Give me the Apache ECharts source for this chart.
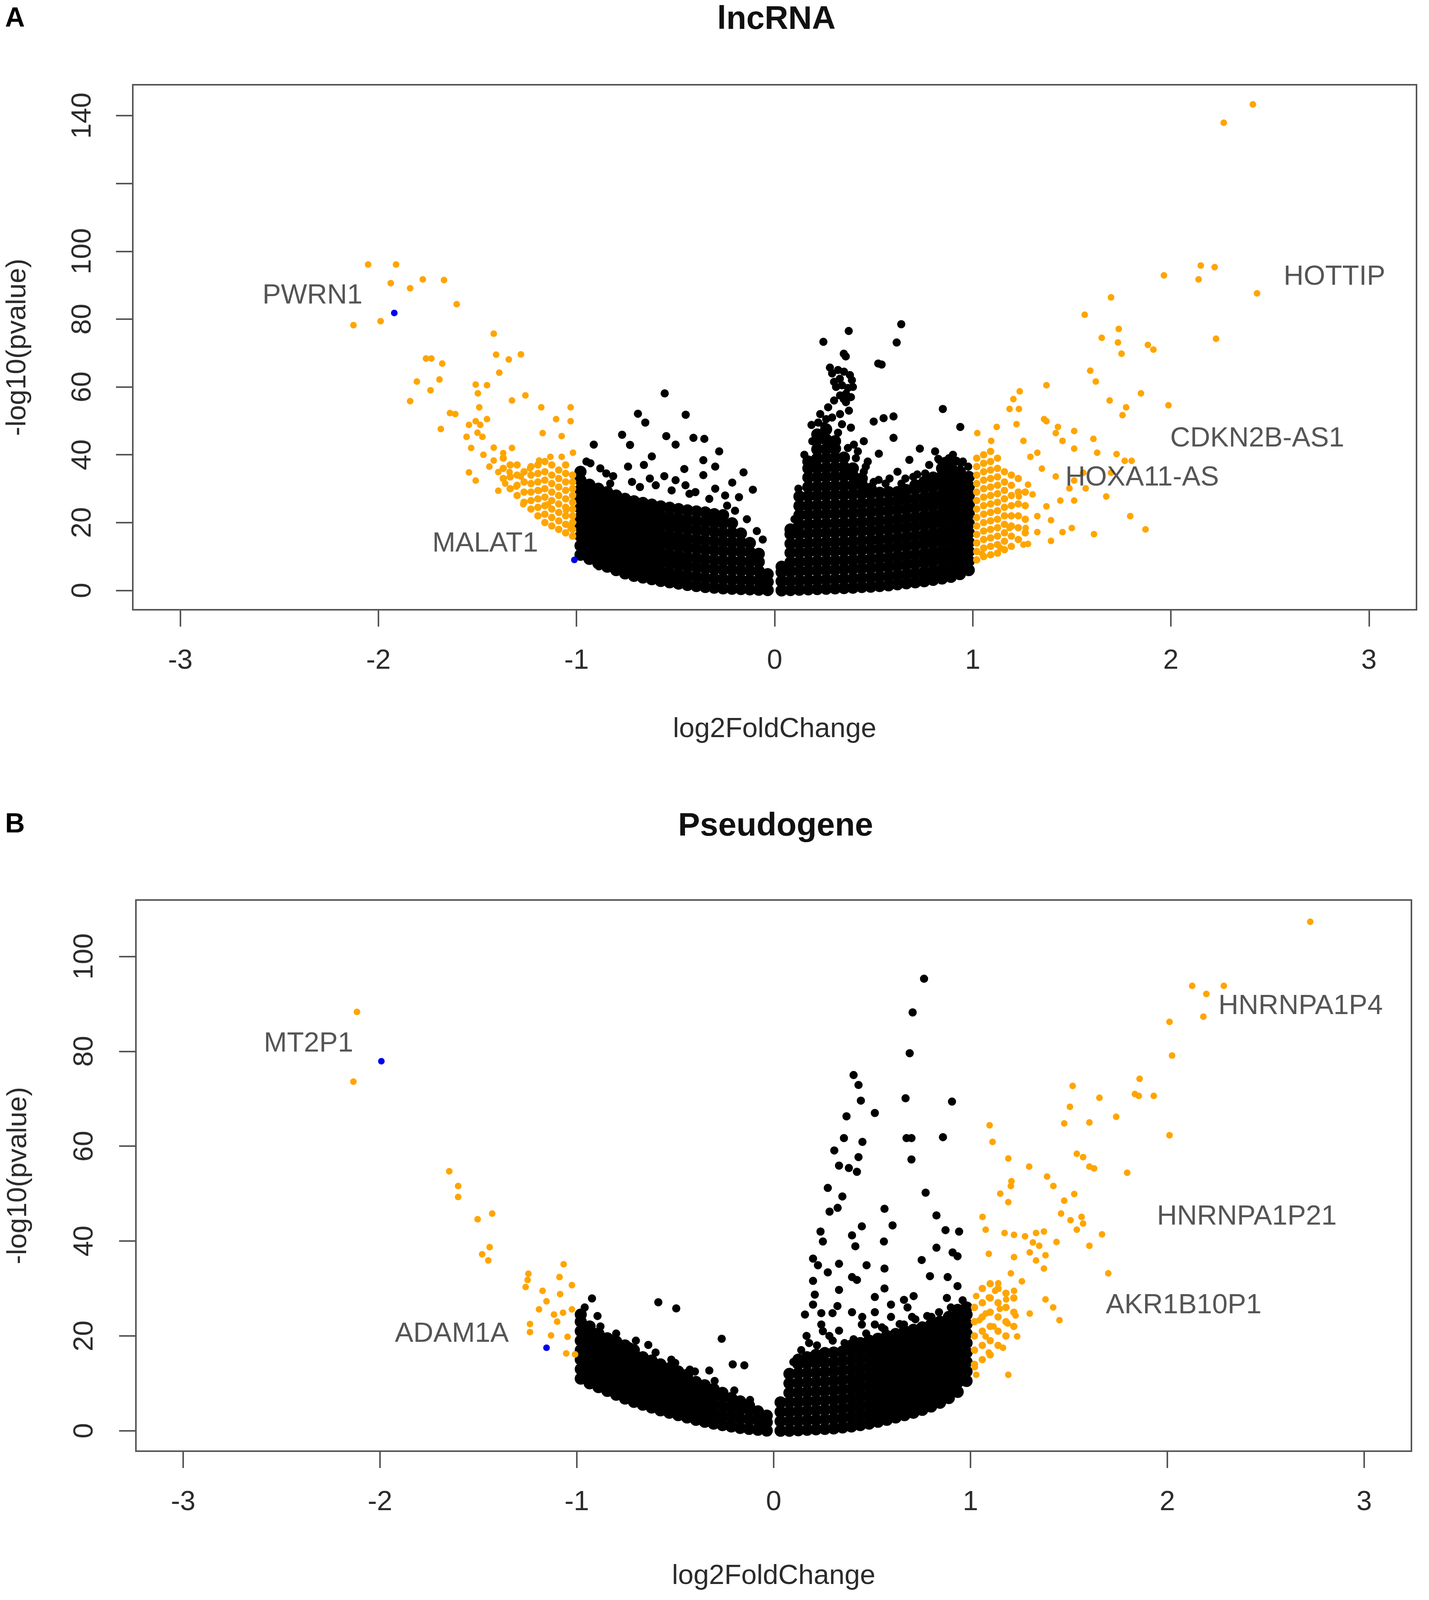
<!DOCTYPE html>
<html>
<head>
<meta charset="utf-8">
<title>lncRNA / Pseudogene volcano plots</title>
<script src="https://cdn.jsdelivr.net/npm/echarts@6/dist/echarts.min.js"></script>
<style>
  html, body { margin: 0; padding: 0; background: #ffffff; }
  #chart { width: 3659px; height: 4106px; }
</style>
</head>
<body>
<div id="chart"></div>
<script>
// 坐标轴刻度
const xTicks = [-3, -2, -1, 0, 1, 2, 3];
const lncYTicks = [0, 20, 40, 60, 80, 100, 120, 140];
const lncYLabels = [0, 20, 40, 60, 80, 100, 140];
const pseudoYTicks = [0, 20, 40, 60, 80, 100];

// ---------- A: lncRNA ----------
// dense black mass, read column by column: [log2FC, [-log10 p ...]]
const lncBlackCols = [
  [-0.98, [10.5, 13.2, 16, 18.7, 21.5, 24.2, 27, 29.7, 32.5, 35]],
  [-0.935, [9.3, 12, 14.8, 17.5, 20.3, 23, 25.8, 28.5, 31.2]],
  [-0.89, [8, 10.7, 13.5, 16.2, 19, 21.7, 24.5, 27.2, 30]],
  [-0.845, [7, 9.8, 12.5, 15.3, 18, 20.8, 23.5, 26.3, 29]],
  [-0.8, [6, 8.7, 11.5, 14.2, 17, 19.7, 22.5, 25.2, 28]],
  [-0.755, [5, 7.7, 10.5, 13.2, 16, 18.7, 21.5, 24.2, 27]],
  [-0.71, [4.3, 7, 9.8, 12.5, 15.3, 18, 20.8, 23.5, 26.3]],
  [-0.665, [3.8, 6.5, 9.3, 12, 14.8, 17.5, 20.3, 23, 25.8]],
  [-0.62, [3.3, 6, 8.8, 11.5, 14.3, 17, 19.8, 22.5, 25.3]],
  [-0.575, [2.8, 5.5, 8.3, 11, 13.8, 16.5, 19.3, 22, 24.8]],
  [-0.53, [2.4, 5.1, 7.9, 10.6, 13.4, 16.1, 18.9, 21.6, 24.4]],
  [-0.485, [2, 4.7, 7.5, 10.2, 13, 15.7, 18.5, 21.2, 24]],
  [-0.44, [1.6, 4.3, 7.1, 9.8, 12.6, 15.3, 18.1, 20.8, 23.6]],
  [-0.395, [1.3, 4, 6.8, 9.5, 12.3, 15, 17.8, 20.5, 23.3]],
  [-0.35, [1, 3.7, 6.5, 9.2, 12, 14.7, 17.5, 20.2, 23]],
  [-0.305, [0.8, 3.5, 6.3, 9, 11.8, 14.5, 17.3, 20, 22.5]],
  [-0.26, [0.6, 3.3, 6.1, 8.8, 11.6, 14.3, 17, 19.8, 22.2]],
  [-0.215, [0.5, 3.2, 6, 8.7, 11.5, 14.2, 17, 19.8]],
  [-0.17, [0.4, 3.1, 5.9, 8.6, 11.4, 14.1, 16.8]],
  [-0.125, [0.3, 3, 5.8, 8.5, 11.3, 14]],
  [-0.08, [0.2, 2.9, 5.7, 8.4, 10.8]],
  [-0.035, [0.1, 2.5, 4.8]],
  [0.035, [0, 2.7, 5.4, 7]],
  [0.08, [0.1, 2.8, 5.6, 8.3, 11.1, 13.8, 16.6, 18]],
  [0.125, [0.2, 2.9, 5.7, 8.4, 11.2, 13.9, 16.7, 19.4, 22.2, 24.9, 27.7]],
  [0.17, [0.3, 3, 5.8, 8.5, 11.3, 14, 16.8, 19.5, 22.3, 25, 27.8, 30.5, 33.3, 36, 38]],
  [0.215, [0.4, 3.1, 5.9, 8.6, 11.4, 14.1, 16.9, 19.6, 22.4, 25.1, 27.9, 30.6, 33.4, 36.1, 38.9, 41.6, 44.4, 46]],
  [0.26, [0.5, 3.2, 6, 8.7, 11.5, 14.2, 17, 19.7, 22.5, 25.2, 28, 30.7, 33.5, 36.2, 39, 41.7, 44.5, 47.5]],
  [0.305, [0.6, 3.3, 6.1, 8.8, 11.6, 14.3, 17.1, 19.8, 22.6, 25.3, 28.1, 30.8, 33.6, 36.3, 39.1, 41.8, 44]],
  [0.35, [0.7, 3.4, 6.2, 8.9, 11.7, 14.4, 17.2, 19.9, 22.7, 25.4, 28.2, 30.9, 33.7, 36.4, 39.2]],
  [0.395, [0.8, 3.5, 6.3, 9, 11.8, 14.5, 17.3, 20, 22.8, 25.5, 28.3, 31, 33.8, 36]],
  [0.44, [1, 3.7, 6.5, 9.2, 12, 14.7, 17.5, 20.2, 23, 25.7, 28.5, 31.2, 33]],
  [0.485, [1.1, 3.8, 6.6, 9.3, 12.1, 14.8, 17.6, 20.3, 23.1, 25.8, 28.6, 30]],
  [0.53, [1.3, 4, 6.8, 9.5, 12.3, 15, 17.8, 20.5, 23.3, 26, 28.8]],
  [0.575, [1.5, 4.2, 7, 9.7, 12.5, 15.2, 18, 20.7, 23.5, 26.2, 29]],
  [0.62, [1.8, 4.5, 7.3, 10, 12.8, 15.5, 18.3, 21, 23.8, 26.5, 29]],
  [0.665, [2.1, 4.8, 7.6, 10.3, 13.1, 15.8, 18.6, 21.3, 24.1, 26.8, 29.6]],
  [0.71, [2.4, 5.1, 7.9, 10.6, 13.4, 16.1, 18.9, 21.6, 24.4, 27.1, 29.9, 31]],
  [0.755, [2.7, 5.4, 8.2, 10.9, 13.7, 16.4, 19.2, 21.9, 24.7, 27.4, 30.2, 32]],
  [0.8, [3.1, 5.8, 8.6, 11.3, 14.1, 16.8, 19.6, 22.3, 25.1, 27.8, 30.6, 33.3]],
  [0.845, [3.5, 6.2, 9, 11.7, 14.5, 17.2, 20, 22.7, 25.5, 28.2, 31, 33.7, 36]],
  [0.89, [4, 6.7, 9.5, 12.2, 15, 17.7, 20.5, 23.2, 26, 28.7, 31.5, 34.2, 37]],
  [0.935, [4.8, 7.5, 10.3, 13, 15.8, 18.5, 21.3, 24, 26.8, 29.5, 32.3, 35]],
  [0.98, [6, 8.7, 11.5, 14.2, 17, 19.7, 22.5, 25.2, 28, 30.7, 33.5]]
];

// scattered black points above the mass
const lncBlack = [
  [-0.555, 58.1], [-0.69, 52.1], [-0.653, 49.5], [-0.449, 51.8], [-0.913, 43], [-0.77, 45.9],
  [-0.73, 42.9], [-0.547, 45.5], [-0.5, 43], [-0.41, 45], [-0.355, 44.7], [-0.28, 41],
  [-0.36, 38.4], [-0.456, 35.8], [-0.157, 34.8], [-0.815, 33.7], [-0.557, 33.7], [-0.36, 34],
  [-0.214, 31.8], [-0.11, 29.7], [-0.95, 38], [-0.88, 36], [-0.74, 36.5], [-0.66, 37],
  [-0.6, 31], [-0.45, 31], [-0.3, 30], [-0.25, 28], [-0.72, 32], [-0.52, 29.5], [-0.4, 29],
  [-0.85, 34.5], [-0.62, 39.5], [-0.3, 36.5], [-0.18, 27.5], [-0.887, 7.1], [-0.97, 11],
  [-0.93, 37.5], [-0.83, 31.5], [-0.68, 30.5], [-0.63, 33], [-0.5, 32.5], [-0.43, 28.5],
  [-0.33, 27], [-0.24, 25], [-0.2, 23.5], [-0.14, 21], [-0.09, 17.5], [-0.06, 15],
  [0.374, 76.5], [0.246, 73.3], [0.639, 78.5], [0.616, 73.1], [0.359, 69], [0.523, 66.9],
  [0.54, 66.6], [0.279, 65.7], [0.329, 62.4], [0.39, 62], [0.31, 60], [0.37, 59.7], [0.36, 58],
  [0.385, 57], [0.36, 55.5], [0.375, 53], [0.3, 56], [0.33, 52], [0.5, 49.8], [0.55, 50.8],
  [0.6, 51.3], [0.849, 53.5], [0.937, 48.2], [0.733, 41.8], [0.385, 48], [0.25, 48.5],
  [0.526, 40.3], [0.525, 32.6], [0.72, 34.2], [0.535, 29], [0.45, 44], [0.42, 41], [0.6, 45],
  [0.68, 38.5], [0.46, 36.5], [0.29, 51], [0.34, 49], [0.81, 41], [0.95, 38], [0.977, 36.5],
  [0.9, 40], [0.78, 37], [0.62, 35], [0.58, 33], [0.66, 33], [0.47, 38], [0.4, 43],
  [0.186, 48.8], [0.23, 52], [0.27, 54], [0.29, 64], [0.32, 65], [0.35, 64.5], [0.38, 63.5],
  [0.3, 61.5], [0.34, 60.5], [0.395, 60], [0.33, 57.5], [0.355, 56.5], [0.349, 69.8],
  [0.86, 38.2], [0.919, 38.2], [0.826, 38.8], [0.349, 56.4],
  [0.1, 21], [0.12, 30], [0.15, 40], [0.19, 44], [0.22, 49.5], [0.26, 50.5], [0.32, 46.5],
  [0.37, 42], [0.41, 39], [0.45, 35], [0.5, 32], [0.56, 31.5], [0.64, 31.5], [0.7, 33.5],
  [0.76, 34.5], [0.83, 38.5], [0.88, 39], [0.94, 37.5]
];

// dense orange masses next to |log2FC| = 1
const lncOrangeCols = [
  [-1.02, [16, 18, 20, 22, 24, 26, 28, 30, 32, 34]],
  [-1.055, [17, 19.5, 22, 24.5, 27, 29.5, 32, 34.5, 37]],
  [-1.09, [18, 20.5, 23, 25.5, 28, 30.5, 33, 35.5]],
  [-1.125, [19, 21.5, 24, 26.5, 29, 31.5, 34, 37]],
  [-1.16, [20, 22.5, 25, 27.5, 30, 32.5, 35, 38]],
  [-1.195, [22, 24.5, 27, 29.5, 32, 34.5, 37]],
  [-1.23, [24, 26.5, 29, 31.5, 34, 36.5]],
  [-1.265, [26, 29, 32, 35]],
  [-1.3, [28, 31, 34, 37]],
  [-1.335, [30, 33.5, 37]],
  [-1.37, [33, 36, 39]],
  [1.02, [9, 11.5, 14, 16.5, 19, 21.5, 24, 26.5, 29, 31.5, 34, 36.5, 39]],
  [1.055, [10, 12.5, 15, 17.5, 20, 22.5, 25, 27.5, 30, 32.5, 35, 37.5, 40]],
  [1.09, [10.5, 13, 15.5, 18, 20.5, 23, 25.5, 28, 30.5, 33, 35.5, 38, 41]],
  [1.125, [11, 13.5, 16, 18.5, 21, 23.5, 26, 28.5, 31, 33.5, 36, 39]],
  [1.16, [12, 14.5, 17, 19.5, 22, 24.5, 27, 29.5, 32, 35]],
  [1.195, [13, 16, 19, 22, 25, 28, 31, 34]],
  [1.23, [15, 18.5, 22, 25.5, 29, 33]],
  [1.265, [17, 21, 25, 29]]
];

const lncOrange = [
  [-2.052, 96.1], [-1.911, 96.1], [-1.938, 90.6], [-1.84, 89.1], [-1.776, 91.7], [-1.669, 91.5],
  [-1.605, 84.4], [-2.126, 78.2], [-1.989, 79.4], [-1.418, 75.7], [-1.406, 69.5], [-1.342, 68.1],
  [-1.281, 69.6], [-1.39, 64.2], [-1.76, 68.4], [-1.733, 68.4], [-1.678, 66.9], [-1.806, 61.6],
  [-1.692, 62.2], [-1.737, 59], [-1.84, 55.8], [-1.509, 60.7], [-1.452, 60.5], [-1.498, 58.1],
  [-1.258, 57.5], [-1.326, 56], [-1.03, 54], [-1.03, 49.9], [-1.178, 54], [-1.639, 52.3],
  [-1.612, 52], [-1.491, 54], [-1.509, 49.9], [-1.452, 50.5], [-1.543, 48.8], [-1.486, 48.8],
  [-1.103, 50.5], [-1.685, 47.6], [-1.555, 45.3], [-1.475, 45.3], [-1.171, 46.4], [-1.075, 45.5],
  [-1.532, 42], [-1.418, 42.1], [-1.326, 42], [-1.018, 40.6], [-1.543, 34.8], [-1.509, 32.4],
  [-1.418, 38.3], [-1.395, 34.9], [-1.338, 34.9], [-1.281, 33.6], [-1.235, 36], [-1.189, 38.3],
  [-1.132, 39.4], [-1.075, 39.4], [-1.395, 29.4], [-1.304, 30.6], [-1.269, 25.4], [-1.189, 29.4],
  [-1.144, 25.4], [-1.053, 23.6], [-1.03, 18.4], [-1.5, 46.5], [-1.47, 40], [-1.37, 40.5],
  [-1.44, 36.5], [-1.36, 31.5],
  [2.414, 143.3], [2.267, 137.9], [2.151, 95.8], [2.221, 95.3], [2.14, 91.7], [1.965, 92.9],
  [2.435, 87.6], [1.698, 86.4], [1.565, 81.3], [2.228, 74.2], [1.737, 77.1], [1.651, 74.5],
  [1.733, 73.1], [1.751, 69.8], [1.884, 72.4], [1.912, 71], [1.593, 64.8], [1.621, 61.6],
  [1.372, 60.5], [1.849, 58.1], [1.691, 56], [1.774, 54], [1.756, 51.7], [1.988, 54.6],
  [1.237, 58.7], [1.205, 56.4], [1.186, 53.5], [1.233, 53.5], [1.36, 50.5], [1.121, 48.2],
  [1.221, 49], [1.43, 48.2], [1.512, 47], [1.609, 44.7], [1.453, 44.1], [1.023, 46.4],
  [1.093, 44.1], [1.326, 40.6], [1.726, 40.2], [1.802, 38.2], [1.674, 27.7], [1.795, 21.9],
  [1.872, 18], [1.612, 16.6], [1.5, 18.4], [1.453, 17.2], [1.395, 14.6], [1.256, 13.5],
  [1.279, 13.7], [1.14, 12.5], [1.047, 10.8], [1.57, 30.1], [1.512, 32.4], [1.372, 49.9],
  [1.419, 46.4], [1.512, 41.8], [1.256, 44.1], [1.291, 39.4], [1.349, 35.9], [1.419, 33.6],
  [1.488, 30.1], [1.442, 26.5], [1.372, 24.8], [1.326, 21.9], [1.512, 26.5], [1.628, 40.6],
  [1.698, 34.7], [1.767, 38.2], [1.558, 34.7], [1.279, 31.2], [1.233, 27.7], [1.302, 28.3],
  [1.267, 18.4], [1.395, 20.7], [1.326, 17.2], [1.186, 18.4]
];

const lncBlue = [[-1.92, 81.8], [-1.011, 9.0]];
const lncGeneNames = ['PWRN1', 'MALAT1', 'HOTTIP', 'CDKN2B-AS1', 'HOXA11-AS'];
const lncGenePos = [[-2.333, 86.8], [-1.461, 13.7], [2.826, 92.4], [2.436, 44.7], [1.855, 33.2]];

// ---------- B: Pseudogene ----------
const pseudoBlackCols = [
  [-0.98, [11, 13, 15, 17, 19, 21, 23, 24.5]],
  [-0.935, [10, 12, 14, 16, 18, 20, 22]],
  [-0.89, [9.2, 11.2, 13.2, 15.2, 17.2, 19.2, 20.5]],
  [-0.845, [8.4, 10.4, 12.4, 14.4, 16.4, 18.4, 19.5]],
  [-0.8, [7.6, 9.6, 11.6, 13.6, 15.6, 17.6, 18.8]],
  [-0.755, [6.8, 8.8, 10.8, 12.8, 14.8, 16.8, 18]],
  [-0.71, [6.1, 8.1, 10.1, 12.1, 14.1, 16.1, 17]],
  [-0.665, [5.5, 7.5, 9.5, 11.5, 13.5, 15.5]],
  [-0.62, [4.9, 6.9, 8.9, 10.9, 12.9, 14.8]],
  [-0.575, [4.3, 6.3, 8.3, 10.3, 12.3, 14]],
  [-0.53, [3.8, 5.8, 7.8, 9.8, 11.8, 13.2]],
  [-0.485, [3.3, 5.3, 7.3, 9.3, 11.3, 12.5]],
  [-0.44, [2.8, 4.8, 6.8, 8.8, 10.8, 11.8]],
  [-0.395, [2.3, 4.3, 6.3, 8.3, 10.3]],
  [-0.35, [1.9, 3.9, 5.9, 7.9, 9.6]],
  [-0.305, [1.5, 3.5, 5.5, 7.5, 8.8]],
  [-0.26, [1.2, 3.2, 5.2, 7.2, 8]],
  [-0.215, [0.9, 2.9, 4.9, 6.9]],
  [-0.17, [0.6, 2.6, 4.6, 6.2]],
  [-0.125, [0.4, 2.4, 4.4, 5.3]],
  [-0.08, [0.2, 2.2, 4.1]],
  [-0.035, [0.05, 1.8, 3.2]],
  [0.035, [0, 2, 4, 6]],
  [0.08, [0, 2, 4, 6, 8, 10, 12]],
  [0.125, [0.1, 2.1, 4.1, 6.1, 8.1, 10.1, 12.1, 14.1, 15]],
  [0.17, [0.2, 2.2, 4.2, 6.2, 8.2, 10.2, 12.2, 14.2, 15.5]],
  [0.215, [0.3, 2.3, 4.3, 6.3, 8.3, 10.3, 12.3, 14.3, 16]],
  [0.26, [0.4, 2.4, 4.4, 6.4, 8.4, 10.4, 12.4, 14.4, 16.4]],
  [0.305, [0.5, 2.5, 4.5, 6.5, 8.5, 10.5, 12.5, 14.5, 16.5]],
  [0.35, [0.7, 2.7, 4.7, 6.7, 8.7, 10.7, 12.7, 14.7, 16.7]],
  [0.395, [0.9, 2.9, 4.9, 6.9, 8.9, 10.9, 12.9, 14.9, 16.9, 18]],
  [0.44, [1.2, 3.2, 5.2, 7.2, 9.2, 11.2, 13.2, 15.2, 17.2, 18.5]],
  [0.485, [1.5, 3.5, 5.5, 7.5, 9.5, 11.5, 13.5, 15.5, 17.5, 19]],
  [0.53, [1.9, 3.9, 5.9, 7.9, 9.9, 11.9, 13.9, 15.9, 17.9, 19.4]],
  [0.575, [2.3, 4.3, 6.3, 8.3, 10.3, 12.3, 14.3, 16.3, 18.3, 20]],
  [0.62, [2.8, 4.8, 6.8, 8.8, 10.8, 12.8, 14.8, 16.8, 18.8, 20.4]],
  [0.665, [3.3, 5.3, 7.3, 9.3, 11.3, 13.3, 15.3, 17.3, 19.3, 21]],
  [0.71, [3.8, 5.8, 7.8, 9.8, 11.8, 13.8, 15.8, 17.8, 19.8, 21.3]],
  [0.755, [4.4, 6.4, 8.4, 10.4, 12.4, 14.4, 16.4, 18.4, 20.4, 21.8]],
  [0.8, [5.1, 7.1, 9.1, 11.1, 13.1, 15.1, 17.1, 19.1, 21.1, 22.4]],
  [0.845, [5.9, 7.9, 9.9, 11.9, 13.9, 15.9, 17.9, 19.9, 21.9, 23]],
  [0.89, [6.9, 8.9, 10.9, 12.9, 14.9, 16.9, 18.9, 20.9, 22.9, 24]],
  [0.935, [8.2, 10.2, 12.2, 14.2, 16.2, 18.2, 20.2, 22.2, 24.2, 25.5]],
  [0.98, [10.5, 12.5, 14.5, 16.5, 18.5, 20.5, 22.5, 24.5, 26]]
];

const pseudoBlack = [
  [-0.923, 27.9], [-0.895, 24.2], [-0.586, 27.1], [-0.495, 25.8], [-0.264, 19.4], [-0.637, 18.1],
  [-0.731, 17.8], [-0.208, 14], [-0.149, 13.8], [-0.327, 12.7], [-0.426, 12.9], [-0.5, 14.3],
  [-0.961, 13.5], [-0.945, 11.4], [-0.973, 22.9], [-0.973, 21.4],
  [-0.96, 26], [-0.88, 22], [-0.8, 20.5], [-0.7, 19], [-0.6, 16.5], [-0.52, 15], [-0.4, 12.5],
  [-0.3, 10.5], [-0.2, 8.5], [-0.12, 6.5],
  [0.764, 95.3], [0.706, 88.2], [0.691, 79.6], [0.406, 75], [0.431, 72.9], [0.443, 69.6],
  [0.67, 70.1], [0.906, 69.4], [0.514, 67], [0.37, 66.3], [0.357, 61.7], [0.451, 60.9],
  [0.675, 61.7], [0.7, 61.7], [0.86, 61.9], [0.308, 59.1], [0.431, 57.7], [0.7, 57.2],
  [0.332, 55.9], [0.382, 55.4], [0.423, 54.6], [0.275, 51.2], [0.349, 49.4], [0.772, 50.2],
  [0.563, 46.8], [0.284, 46.2], [0.325, 47], [0.827, 45.4], [0.604, 43.3], [0.448, 43.1],
  [0.238, 42], [0.873, 42.3], [0.942, 42], [0.398, 41.2], [0.25, 39.9], [0.56, 39.9],
  [0.415, 38.9], [0.827, 38.6], [0.909, 37.6], [0.934, 36.8], [0.2, 36.3], [0.752, 36],
  [0.332, 35.2], [0.225, 34.9], [0.472, 34.9], [0.563, 34.2], [0.275, 33.4], [0.398, 32.4],
  [0.794, 32.6], [0.884, 32.4], [0.2, 31.6], [0.423, 31.8], [0.563, 30], [0.934, 30.5],
  [0.332, 29.7], [0.209, 28.7], [0.711, 28.4], [0.514, 28.2], [0.596, 26.6], [0.662, 27.6],
  [0.2, 26.6], [0.324, 26.3], [0.242, 24.8], [0.299, 24.8], [0.398, 25], [0.514, 25],
  [0.802, 24], [0.703, 24], [0.159, 24.5], [0.596, 24], [0.242, 22.4], [0.332, 21.1],
  [0.448, 22.4], [0.514, 22.4], [0.563, 21.4], [0.662, 22.4], [0.167, 20], [0.283, 20],
  [0.406, 19.3], [0.761, 19.8], [0.86, 21.9], [0.942, 25], [0.93, 9.3], [0.93, 11.9],
  [0.1, 14.5], [0.14, 17], [0.18, 18.5], [0.22, 18], [0.3, 19], [0.36, 18.5], [0.47, 20.5],
  [0.55, 21.8], [0.64, 22.5], [0.72, 23.5], [0.78, 24.2], [0.84, 25], [0.9, 26], [0.96, 27.5],
  [0.25, 21], [0.45, 24], [0.68, 26], [0.88, 28]
];

const pseudoOrangeCols = [
  [1.02, [14, 17, 20, 23, 26]],
  [1.06, [15, 18, 21, 24, 27, 30]],
  [1.1, [16, 19, 22, 25, 28, 31]],
  [1.14, [18, 21, 24, 27, 30]],
  [1.18, [20, 23, 26, 29]],
  [1.22, [22, 25, 28]]
];

const pseudoOrange = [
  [-2.117, 88.3], [-2.135, 73.6], [-1.648, 54.7], [-1.603, 51.6], [-1.603, 49.3], [-1.504, 44.6],
  [-1.43, 45.8], [-1.443, 38.7], [-1.481, 37.2], [-1.45, 35.9], [-1.067, 35.1], [-1.246, 33.1],
  [-1.26, 30.3], [-1.25, 31.8], [-1.088, 32.4], [-1.025, 30.7], [-1.174, 29.5], [-1.085, 28.8],
  [-1.154, 27.3], [-1.192, 25.6], [-1.116, 24.5], [-1.025, 25.6], [-1.07, 24.9], [-1.238, 22.5],
  [-1.238, 20.8], [-1.131, 20.1], [-1.047, 19.8], [-1.054, 16.3], [-1.009, 16.1], [-1.1, 23],
  [2.726, 107.3], [2.126, 93.8], [2.198, 92.1], [2.287, 93.8], [2.183, 87.3], [2.011, 86.2],
  [2.024, 79.1], [1.859, 74.2], [1.835, 71], [1.855, 70.6], [1.931, 70.6], [1.655, 70.2],
  [1.519, 72.7], [1.505, 68.3], [1.476, 64.8], [1.604, 65], [1.74, 66.2], [2.011, 62.3],
  [1.097, 64.4], [1.112, 60.9], [1.54, 58.4], [1.572, 57.7], [1.604, 55.7], [1.628, 55.3],
  [1.796, 54.4], [1.192, 57.4], [1.298, 55.7], [1.208, 52.6], [1.205, 51.6], [1.389, 53.6],
  [1.421, 51.6], [1.151, 50], [1.192, 48.2], [1.527, 49.9], [1.476, 48.5], [1.46, 45.8],
  [1.508, 44.4], [1.564, 45.1], [1.54, 42.4], [1.572, 43.7], [1.061, 45.1], [1.077, 42.4],
  [1.173, 41.7], [1.221, 41.3], [1.277, 41], [1.333, 41.7], [1.373, 42], [1.317, 39.7],
  [1.349, 39], [1.437, 39.8], [1.668, 41.4], [1.604, 39], [1.093, 37.3], [1.301, 37.6],
  [1.381, 37], [1.221, 36.6], [1.333, 35.9], [1.373, 34.2], [1.7, 33.2], [1.205, 33.2],
  [1.261, 31.5], [1.141, 31.1], [1.221, 29.5], [1.125, 29.5], [1.093, 28.1], [1.181, 27.7],
  [1.029, 28.4], [1.381, 27.7], [1.42, 26], [1.452, 23.3], [1.301, 24.7], [1.149, 25.7],
  [1.077, 24.7], [1.229, 24.3], [1.045, 23.3], [1.117, 22], [1.189, 22.6], [1.237, 19.9],
  [1.077, 19.9], [1.165, 17.5], [1.093, 16.5], [1.022, 13.4], [1.192, 11.8], [1.029, 11.8]
];

const pseudoBlue = [[-1.993, 77.9], [-1.154, 17.5]];
const pseudoGeneNames = ['MT2P1', 'ADAM1A', 'HNRNPA1P4', 'HNRNPA1P21', 'AKR1B10P1'];
const pseudoGenePos = [[-2.363, 81.6], [-1.635, 20.4], [2.677, 89.5], [2.404, 45.1], [2.083, 26.4]];

// ---------- 绘图 ----------
const FONT = 'Liberation Sans, Arial, Helvetica, sans-serif';
const TEXT = '#2b2b2b';
const AXIS = '#555555';

function flatCols(cols) {
    const out = [];
    cols.forEach(([x, ys]) => ys.forEach(y => out.push([x, y])));
    return out;
}

function xAxisFor(gridIndex, nameGap) {
    return {
        gridIndex: gridIndex,
        type: 'value',
        min: -3.24,
        max: 3.24,
        name: 'log2FoldChange',
        nameLocation: 'middle',
        nameGap: nameGap,
        nameTextStyle: { fontFamily: FONT, fontSize: 71, color: TEXT },
        axisLine: { show: false, onZero: false },
        axisTick: { show: true, inside: false, length: 43, customValues: xTicks,
            lineStyle: { color: AXIS, width: 4 } },
        axisLabel: { show: true, margin: 96, customValues: xTicks,
            fontFamily: FONT, fontSize: 71, color: TEXT },
        splitLine: { show: false }
    };
}

function yAxisFor(gridIndex, min, max, ticks, labels, nameGap, margin) {
    return {
        gridIndex: gridIndex,
        type: 'value',
        min: min,
        max: max,
        name: '-log10(pvalue)',
        nameLocation: 'middle',
        nameGap: nameGap,
        nameTextStyle: { fontFamily: FONT, fontSize: 71, color: TEXT },
        axisLine: { show: false, onZero: false },
        axisTick: { show: true, inside: false, length: 43, customValues: ticks,
            lineStyle: { color: AXIS, width: 4 } },
        axisLabel: { show: true, rotate: 90, margin: margin, customValues: labels,
            fontFamily: FONT, fontSize: 71, color: TEXT },
        splitLine: { show: false }
    };
}

function panelSeries(idx, denseCols, black, orangeCols, orange, blue, names, pos) {
    const base = { type: 'scatter', xAxisIndex: idx, yAxisIndex: idx, silent: true, animation: false };
    return [
        Object.assign({}, base, { name: 'ns-dense', data: flatCols(denseCols), symbolSize: 31,
            itemStyle: { color: '#000000', opacity: 1 } }),
        Object.assign({}, base, { name: 'ns', data: black, symbolSize: 21,
            itemStyle: { color: '#000000', opacity: 1 } }),
        Object.assign({}, base, { name: 'sig-dense', data: flatCols(orangeCols), symbolSize: 19,
            itemStyle: { color: '#FFA500', opacity: 1 } }),
        Object.assign({}, base, { name: 'sig', data: orange, symbolSize: 17,
            itemStyle: { color: '#FFA500', opacity: 1 } }),
        Object.assign({}, base, { name: 'marked', data: blue, symbolSize: 17,
            itemStyle: { color: '#0000EE', opacity: 1 } }),
        Object.assign({}, base, {
            name: 'labels',
            symbolSize: 1,
            itemStyle: { color: 'rgba(0,0,0,0)' },
            data: names.map((n, i) => ({ name: n, value: pos[i] })),
            label: { show: true, position: 'inside', formatter: '{b}',
                fontFamily: FONT, fontSize: 71, color: TEXT },
            z: 10
        })
    ];
}

const chart = echarts.init(document.getElementById('chart'), null, { renderer: 'canvas' });

const option = {
    backgroundColor: '#ffffff',
    animation: false,
    title: [
        { text: 'A', left: 8, top: 9, textStyle: { fontFamily: FONT, fontSize: 70, fontWeight: 'bold', color: '#000' } },
        { text: 'lncRNA', left: 1983, top: 4, textAlign: 'center',
            textStyle: { fontFamily: FONT, fontSize: 84, fontWeight: 'bold', color: '#111' } },
        { text: 'B', left: 8, top: 2072, textStyle: { fontFamily: FONT, fontSize: 70, fontWeight: 'bold', color: '#000' } },
        { text: 'Pseudogene', left: 1981, top: 2069, textAlign: 'center',
            textStyle: { fontFamily: FONT, fontSize: 84, fontWeight: 'bold', color: '#111' } }
    ],
    grid: [
        { left: 340, top: 217, width: 3287, height: 1344, show: true, borderColor: AXIS, borderWidth: 4,
            backgroundColor: 'transparent', containLabel: false, outerBoundsMode: 'none' },
        { left: 348, top: 2304, width: 3266, height: 1411, show: true, borderColor: AXIS, borderWidth: 4,
            backgroundColor: 'transparent', containLabel: false, outerBoundsMode: 'none' }
    ],
    xAxis: [xAxisFor(0, 271), xAxisFor(1, 285)],
    yAxis: [
        yAxisFor(0, -5.7, 149.1, lncYTicks, lncYLabels, 259, 92),
        yAxisFor(1, -4.3, 111.9, pseudoYTicks, pseudoYTicks, 265, 95)
    ],
    series: [].concat(
        panelSeries(0, lncBlackCols, lncBlack, lncOrangeCols, lncOrange, lncBlue, lncGeneNames, lncGenePos),
        panelSeries(1, pseudoBlackCols, pseudoBlack, pseudoOrangeCols, pseudoOrange, pseudoBlue, pseudoGeneNames, pseudoGenePos)
    )
};

chart.setOption(option);
</script>
</body>
</html>
